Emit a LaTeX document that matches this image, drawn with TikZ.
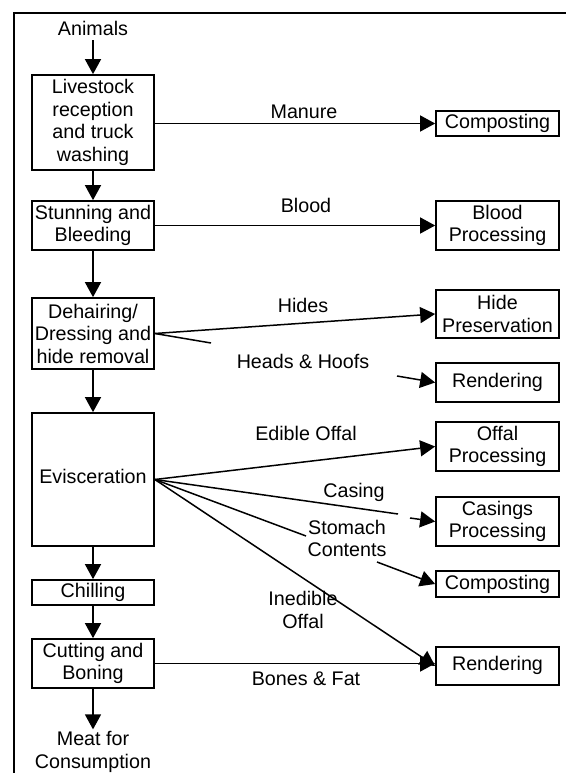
\documentclass[tikz,border=0pt]{standalone}
\usepackage{fontspec}
\setmainfont{Liberation Sans}
\usetikzlibrary{arrows.meta,calc}
\begin{document}
\begin{tikzpicture}[x=1pt,y=-1pt,
  font=\fontsize{19.7}{22.5}\selectfont,
  box/.style={draw,line width=1.7pt,rectangle,inner sep=0pt,align=center},
  lbox/.style={box,minimum width=122pt},
  rbox/.style={box,minimum width=123pt},
  lab/.style={inner sep=0pt,align=center},
  conn/.style={line width=1.5pt},
  arr/.style={conn,-{Triangle[length=15pt,width=16pt]}}
]
\useasboundingbox (0,0) rectangle (566,773);
\draw[line width=1.8pt] (14,773) -- (14,13) -- (566,13);

% left column
\node[lab,anchor=base] (animals) at (93,36) {Animals};
\node[lbox,minimum height=95pt] (live) at (93,122.5) {Livestock\\reception\\and truck\\washing};
\node[lbox,minimum height=49pt] (stun) at (93,225.5) {Stunning and\\Bleeding};
\node[lbox,minimum height=71pt] (dehair) at (93,333.5) {Dehairing/\\Dressing and\\hide removal};
\node[lbox,minimum height=133pt] (evis) at (93,479.5) {\raisebox{7pt}{Evisceration}};
\node[lbox,minimum height=25pt] (chill) at (93,592.5) {Chilling};
\node[lbox,minimum height=49pt] (cut) at (93,663.5) {Cutting and\\Boning};
\node[lab] (meat) at (93,752) {Meat for\\Consumption};

% right column
\node[rbox,minimum height=25pt] (comp1) at (497.5,123.5) {Composting};
\node[rbox,minimum height=49pt] (blood) at (497.5,225.5) {Blood\\Processing};
\node[rbox,minimum height=48pt] (hide) at (497.5,314) {Hide\\Preservation};
\node[rbox,minimum height=39pt] (rend1) at (497.5,382.5) {\raisebox{5pt}{Rendering}};
\node[rbox,minimum height=49pt] (offal) at (497.5,446.5) {Offal\\Processing};
\node[rbox,minimum height=49pt] (casings) at (497.5,521.5) {Casings\\Processing};
\node[rbox,minimum height=26pt] (comp2) at (497.5,584) {Composting};
\node[rbox,minimum height=38pt] (rend2) at (497.5,666) {\raisebox{6pt}{Rendering}};

% labels
\node[lab,anchor=base] (lmanure) at (304,119) {Manure};
\node[lab,anchor=base] (lblood) at (306,212) {Blood};
\node[lab,anchor=base] (lhides) at (303,312) {Hides};
\node[lab,anchor=base] (lheads) at (303,368) {Heads \& Hoofs};
\node[lab,anchor=base] (ledible) at (306,440) {Edible Offal};
\node[lab,anchor=base] (lcasing) at (354,497) {Casing};
\node[lab] (lstomach) at (347,538.5) {Stomach\\Contents};
\node[lab] (linedible) at (303,610) {Inedible\\Offal};
\node[lab,anchor=base] (lbones) at (306,685) {Bones \& Fat};

% coordinates for broken connectors
\coordinate (hh1) at (211,343);
\coordinate (hh2) at (397,376);
\coordinate (ca1) at (398,514);
\coordinate (ca2) at (410,518);
\coordinate (st1) at (306,536);
\coordinate (st2) at (377,562);

% vertical flow
\draw[arr] (animals.south) ++(0,4) -- (live.north);
\draw[arr] (live) -- (stun);
\draw[arr] (stun) -- (dehair);
\draw[arr] (dehair) -- (evis);
\draw[arr] (evis) -- (chill);
\draw[arr] (chill) -- (cut);
\draw[arr] (cut.south) -- ($(meat.north)+(0,-2)$);

% side flows
\draw[arr] (live.east |- comp1.west) -- (comp1.west);
\draw[arr] (stun.east) -- (blood.west);
\draw[arr] (dehair.east) -- (hide.west);
\draw[conn] (dehair.east) -- (hh1);
\draw[arr] (hh2) -- (rend1.west);
\draw[arr] (evis.east) -- (offal.west);
\draw[conn] (evis.east) -- (ca1);
\draw[arr] (ca2) -- (casings.west);
\draw[conn] (evis.east) -- (st1);
\draw[arr] (st2) -- (comp2.west);
\draw[arr] (evis.east) -- (rend2.west);
\draw[arr] (cut.east) -- (cut.east -| rend2.west);
\end{tikzpicture}
\end{document}
